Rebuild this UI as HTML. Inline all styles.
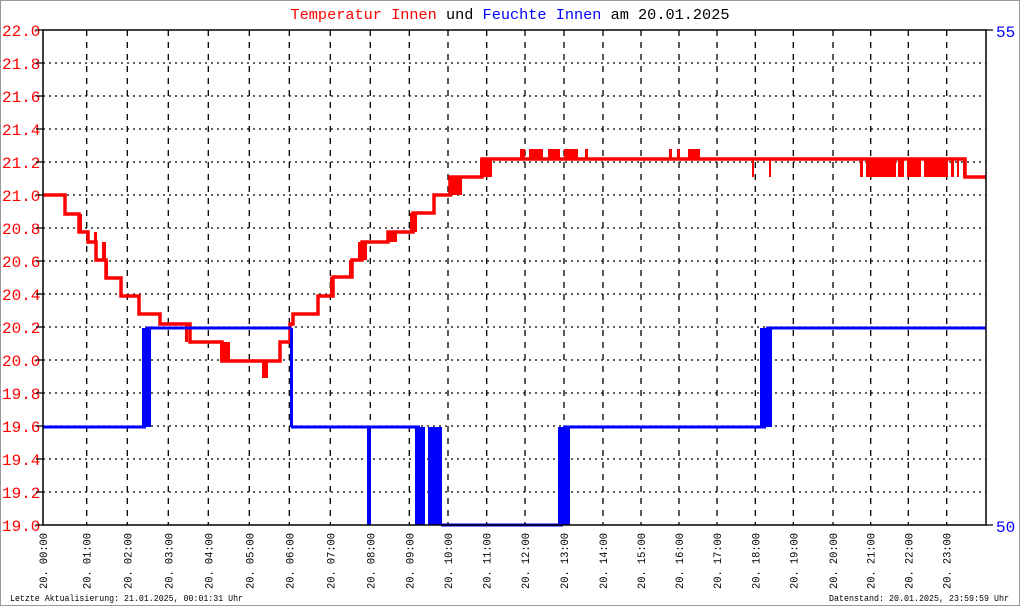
<!DOCTYPE html>
<html><head><meta charset="utf-8"><style>
html,body{margin:0;padding:0;background:#fff;}
svg{display:block;}
text{font-family:"Liberation Mono","DejaVu Sans Mono",monospace;}
</style></head><body>
<svg width="1020" height="606" xmlns="http://www.w3.org/2000/svg">
<rect x="0.5" y="0.5" width="1019" height="605" fill="#fff" stroke="#999"/>
<text x="510" y="19" text-anchor="middle" font-size="15" textLength="439" lengthAdjust="spacingAndGlyphs"><tspan fill="#f00">Temperatur Innen</tspan> <tspan fill="#000">und</tspan> <tspan fill="#00f">Feuchte Innen</tspan> <tspan fill="#000">am 20.01.2025</tspan></text>
<g stroke="#000" stroke-width="1.3" stroke-dasharray="2,4" fill="none">
<path d="M43 63H986M43 96H986M43 129H986M43 162H986M43 195H986M43 228H986M43 261H986M43 294H986M43 327H986M43 360H986M43 393H986M43 426H986M43 459H986M43 492H986"/>
</g>
<g stroke="#000" stroke-width="1.3" stroke-dasharray="6,6" fill="none" id="vg"></g>
<g fill="#f00" font-size="16" id="yl">
<text x="2" y="36">22.0</text><text x="2" y="69">21.8</text><text x="2" y="102">21.6</text><text x="2" y="135">21.4</text><text x="2" y="168">21.2</text><text x="2" y="201">21.0</text><text x="2" y="234">20.8</text><text x="2" y="267">20.6</text><text x="2" y="300">20.4</text><text x="2" y="333">20.2</text><text x="2" y="366">20.0</text><text x="2" y="399">19.8</text><text x="2" y="432">19.6</text><text x="2" y="465">19.4</text><text x="2" y="498">19.2</text><text x="2" y="531">19.0</text>
</g>
<g stroke="#000" stroke-width="1.3">
<path d="M36 30H43M36 63H43M36 96H43M36 129H43M36 162H43M36 195H43M36 228H43M36 261H43M36 294H43M36 327H43M36 360H43M36 393H43M36 426H43M36 459H43M36 492H43M36 525H43"/>
<path d="M986 30H993M986 525H993"/>
</g>
<text x="996" y="37" fill="#00f" font-size="16">55</text>
<text x="996" y="532" fill="#00f" font-size="16">50</text>
<g fill="#f00">
<rect x="449" y="177" width="13" height="18"/>
<rect x="480" y="159" width="12" height="18"/>
<rect x="79" y="214" width="3" height="18"/>
<rect x="94" y="232" width="3" height="12"/>
<rect x="102" y="242" width="4" height="18"/>
<rect x="105" y="260" width="3" height="18"/>
<rect x="185" y="324" width="3" height="18"/>
<rect x="220" y="342" width="10" height="19"/>
<rect x="262" y="361" width="6" height="17"/>
<rect x="330" y="277" width="4" height="19"/>
<rect x="349" y="260" width="4" height="18"/>
<rect x="358" y="242" width="9" height="18"/>
<rect x="388" y="232" width="9" height="10"/>
<rect x="410" y="213" width="7" height="19"/>
<rect x="520" y="149" width="5" height="10"/><rect x="529" y="149" width="14" height="10"/><rect x="548" y="149" width="12" height="10"/><rect x="564" y="149" width="14" height="10"/><rect x="585" y="149" width="3" height="10"/>
<rect x="669" y="149" width="3" height="10"/><rect x="677" y="149" width="3" height="10"/><rect x="688" y="149" width="12" height="10"/>
<rect x="752" y="159" width="2" height="18"/><rect x="769" y="159" width="2" height="18"/>
<rect x="860" y="159" width="3" height="18"/><rect x="866" y="159" width="30" height="18"/><rect x="898" y="159" width="6" height="18"/><rect x="907" y="159" width="14" height="18"/><rect x="924" y="159" width="24" height="18"/><rect x="951" y="159" width="3" height="18"/><rect x="957" y="159" width="2" height="18"/><rect x="963" y="159" width="2" height="18"/>
</g>
<path fill="none" stroke="#f00" stroke-width="3.5" d="M43 195H65V214H79V232H88V242H96V260H106V278H121V296H139V314H160V324H190V342H222V361H280V342H290V324H293V314H303V314H318V296H333V277H352V260H362V242H388V232H413V213H434V195H450V177H482V159H965V177H986"/>
<g fill="#00f">
<rect x="142" y="328" width="9" height="99"/>
<rect x="290" y="328" width="3" height="99"/>
<rect x="367" y="427" width="4" height="98"/>
<rect x="415" y="427" width="10" height="98"/>
<rect x="428" y="427" width="14" height="98"/>
<rect x="558" y="427" width="12" height="98"/>
<rect x="760" y="328" width="12" height="99"/>
</g>
<path fill="none" stroke="#00f" stroke-width="3" d="M43 427H146M146 328H291M291 427H420M441 525H563M563 427H766M766 328H986"/>
<path d="M43 30H986V525H43Z" fill="none" stroke="#000" stroke-width="1.5"/>
<g id="xl" font-size="11" fill="#000"></g>
<text x="10" y="601" font-size="9" textLength="233" lengthAdjust="spacingAndGlyphs">Letzte Aktualisierung: 21.01.2025, 00:01:31 Uhr</text>
<text x="1009" y="601" font-size="9" text-anchor="end" textLength="180" lengthAdjust="spacingAndGlyphs">Datenstand: 20.01.2025, 23:59:59 Uhr</text>
<script>
var xs=[43,86.7,127.3,168.3,208.3,249.3,289.3,330.3,370.3,409.3,448,486.7,525,564,603,641,679,717,755.3,793.3,833,870.7,908.3,946.7];
var ns="http://www.w3.org/2000/svg",vg=document.getElementById('vg'),xl=document.getElementById('xl');
xs.forEach(function(x,i){
 if(i>0){var p=document.createElementNS(ns,'path');p.setAttribute('d','M'+x+' 30V525');vg.appendChild(p);}
 var t=document.createElementNS(ns,'text');
 t.setAttribute('x',x+4);t.setAttribute('y',589);
 t.setAttribute('transform','rotate(-90 '+(x+4)+' 589)');
 t.setAttribute('textLength','56');t.setAttribute('lengthAdjust','spacingAndGlyphs');
 t.textContent='20. '+(i<10?'0':'')+i+':00';xl.appendChild(t);
});
</script>
</svg>
</body></html>
